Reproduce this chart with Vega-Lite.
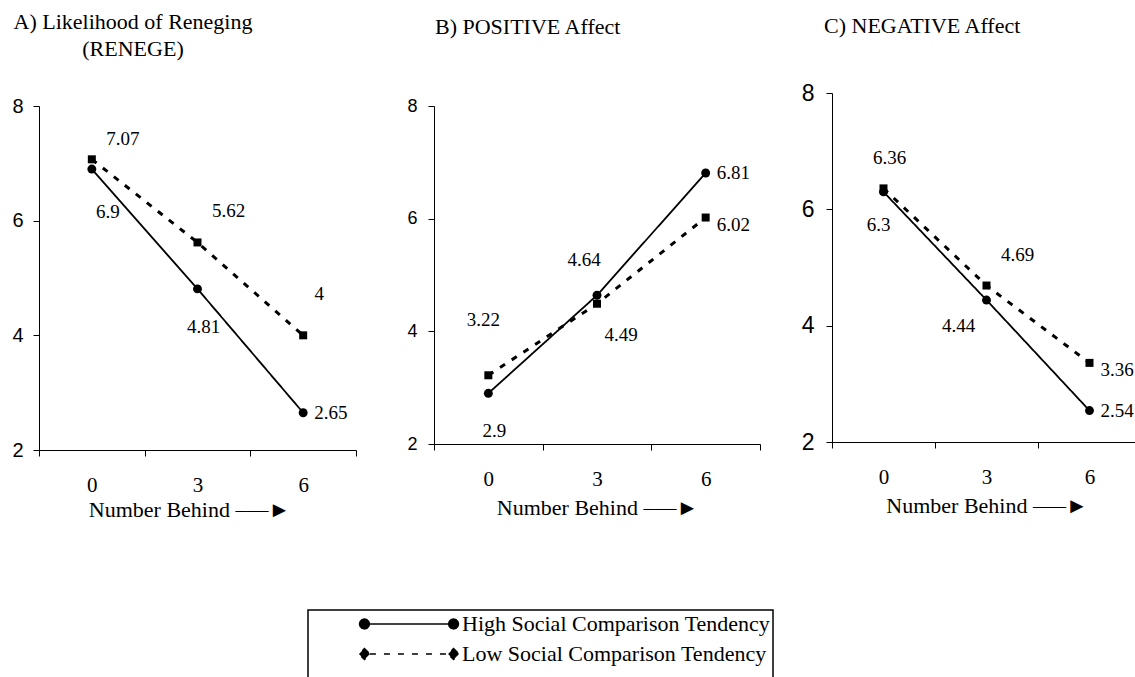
{
  "$schema": "https://vega.github.io/schema/vega-lite/v6.json",
  "padding": {"left": 11, "top": 11, "right": 0, "bottom": 0},
  "background": "white",
  "data": {
    "values": [
      {"panel": "A", "nb": "0", "grp": "High Social Comparison Tendency", "val": 6.9, "lbl": "6.9", "pos": "SSE"},
      {"panel": "A", "nb": "3", "grp": "High Social Comparison Tendency", "val": 4.81, "lbl": "4.81", "pos": "S"},
      {"panel": "A", "nb": "6", "grp": "High Social Comparison Tendency", "val": 2.65, "lbl": "2.65", "pos": "E"},
      {"panel": "A", "nb": "0", "grp": "Low Social Comparison Tendency", "val": 7.07, "lbl": "7.07", "pos": "ENE"},
      {"panel": "A", "nb": "3", "grp": "Low Social Comparison Tendency", "val": 5.62, "lbl": "5.62", "pos": "NE"},
      {"panel": "A", "nb": "6", "grp": "Low Social Comparison Tendency", "val": 4, "lbl": "4", "pos": "NNE"},
      {"panel": "B", "nb": "0", "grp": "High Social Comparison Tendency", "val": 2.9, "lbl": "2.9", "pos": "S"},
      {"panel": "B", "nb": "3", "grp": "High Social Comparison Tendency", "val": 4.64, "lbl": "4.64", "pos": "NW"},
      {"panel": "B", "nb": "6", "grp": "High Social Comparison Tendency", "val": 6.81, "lbl": "6.81", "pos": "E"},
      {"panel": "B", "nb": "0", "grp": "Low Social Comparison Tendency", "val": 3.22, "lbl": "3.22", "pos": "NNW"},
      {"panel": "B", "nb": "3", "grp": "Low Social Comparison Tendency", "val": 4.49, "lbl": "4.49", "pos": "SE"},
      {"panel": "B", "nb": "6", "grp": "Low Social Comparison Tendency", "val": 6.02, "lbl": "6.02", "pos": "ESE"},
      {"panel": "C", "nb": "0", "grp": "High Social Comparison Tendency", "val": 6.3, "lbl": "6.3", "pos": "SW"},
      {"panel": "C", "nb": "3", "grp": "High Social Comparison Tendency", "val": 4.44, "lbl": "4.44", "pos": "WSW"},
      {"panel": "C", "nb": "6", "grp": "High Social Comparison Tendency", "val": 2.54, "lbl": "2.54", "pos": "E"},
      {"panel": "C", "nb": "0", "grp": "Low Social Comparison Tendency", "val": 6.36, "lbl": "6.36", "pos": "N"},
      {"panel": "C", "nb": "3", "grp": "Low Social Comparison Tendency", "val": 4.69, "lbl": "4.69", "pos": "NE"},
      {"panel": "C", "nb": "6", "grp": "Low Social Comparison Tendency", "val": 3.36, "lbl": "3.36", "pos": "ESE"}
    ]
  },
  "spacing": 40,
  "hconcat": [
    {
      "spacing": 49,
      "hconcat": [
        {
          "width": 317,
          "height": 357,
          "title": {"text": ["A) Likelihood of Reneging", "(RENEGE)"], "align": "center", "dx": 94, "offset": 32, "lineHeight": 27},
          "transform": [{"filter": "datum.panel === 'A'"}],
          "encoding": {
            "x": {"field": "nb", "type": "ordinal", "sort": ["0", "3", "6"], "scale": {"type": "band", "paddingInner": 0, "paddingOuter": 0},
              "axis": {"tickBand": "extent", "labelAngle": 0, "title": "Number Behind  –—►", "titleFont": "Liberation Serif", "titleFontSize": 22, "titleFontWeight": "normal", "labelFont": "Liberation Serif", "labelFontSize": 21, "labelPadding": 18, "titlePadding": 4, "titleX": 150}},
            "y": {"field": "val", "type": "quantitative", "scale": {"domain": [2, 8], "nice": false, "zero": false, "range": [357, 13]},
              "axis": {"values": [2, 4, 6, 8], "title": null, "labelFont": "Liberation Sans", "labelFontSize": 20, "labelPadding": 10}}
          },
          "layer": [
            {"mark": {"type": "line", "color": "black"},
             "encoding": {
               "strokeDash": {"field": "grp", "type": "nominal", "scale": {"domain": ["High Social Comparison Tendency", "Low Social Comparison Tendency"], "range": [[1, 0], [6, 8]]},
                 "legend": {
                   "orient": "none", "legendX": 269, "legendY": 517,
                   "title": " ", "titleOrient": "bottom", "titleFontSize": 14, "titlePadding": 6,
                   "strokeColor": "black", "padding": 2, "rowPadding": 7,
                   "symbolSize": 484, "symbolOffset": 87, "labelOffset": 41, "labelLimit": 600,
                   "labelFont": "Liberation Serif", "labelFontSize": 22, "labelColor": "black",
                   "labelExpr": "datum.label + '\u2003\u2003'",
                   "symbolStrokeWidth": 1.5, "symbolFillColor": "black", "symbolStrokeColor": "black",
                   "encode": {
                     "legend": {"update": {"strokeWidth": {"value": 1.5}}},
                     "symbols": {"update": {
                       "shape": {"signal": "datum.value === 'High Social Comparison Tendency' ? 'M-4.05,0L4.05,0M-3.6,0L-3.66,0.225L-3.825,0.39L-4.05,0.45L-4.275,0.39L-4.44,0.225L-4.5,0L-4.44,-0.225L-4.275,-0.39L-4.05,-0.45L-3.825,-0.39L-3.66,-0.225ZM4.5,0L4.44,0.225L4.275,0.39L4.05,0.45L3.825,0.39L3.66,0.225L3.6,0L3.66,-0.225L3.825,-0.39L4.05,-0.45L4.275,-0.39L4.44,-0.225Z' : 'M-3.55,0L3.55,0M-4.05,-0.5L-3.55,0L-4.05,0.5L-4.55,0ZM4.05,-0.5L4.55,0L4.05,0.5L3.55,0Z'"},
                       "fill": {"value": "black"},
                       "stroke": {"value": "black"},
                       "strokeWidth": {"value": 1.5},
                       "strokeDash": {"signal": "datum.value === 'High Social Comparison Tendency' ? [1, 0] : [4, 3]"},
                       "opacity": {"value": 1}
                     }}
                   }
                 }},
               "strokeWidth": {"field": "grp", "type": "nominal", "scale": {"range": [1.8, 3]}, "legend": null}}},
            {"mark": {"type": "point", "filled": true, "color": "black", "opacity": 1},
             "encoding": {
               "shape": {"field": "grp", "type": "nominal", "scale": {"range": ["circle", "square"]}, "legend": null},
               "size": {"field": "grp", "type": "nominal", "scale": {"range": [80, 64]}, "legend": null}}},
            {"mark": {"type": "text", "font": "Liberation Serif", "fontSize": 19, "color": "black", "baseline": "middle",
               "align": {"expr": "datum.pos === 'E' || datum.pos === 'ESE' ? 'left' : 'center'"},
               "dx": {"expr": "({'S':6,'SSE':16,'SW':-5,'WSW':-28,'SE':24,'NE':31,'ENE':31,'NNE':16,'N':6,'NW':-13,'NNW':-5,'E':11,'ESE':11})[datum.pos]"},
               "dy": {"expr": "({'S':38,'SSE':43,'SW':33,'WSW':26,'SE':31,'NE':-31,'ENE':-20,'NNE':-41,'N':-30,'NW':-35,'NNW':-55,'E':0,'ESE':7})[datum.pos]"}},
             "encoding": {"text": {"field": "lbl"}}}
          ]
        },
        {
          "width": 326,
          "height": 351,
          "title": {"text": "B) POSITIVE Affect", "dx": 1, "offset": 54},
          "transform": [{"filter": "datum.panel === 'B'"}],
          "encoding": {
            "x": {"field": "nb", "type": "ordinal", "sort": ["0", "3", "6"], "scale": {"type": "band", "paddingInner": 0, "paddingOuter": 0},
              "axis": {"tickBand": "extent", "labelAngle": 0, "title": "Number Behind  –—►", "titleFont": "Liberation Serif", "titleFontSize": 22, "titleFontWeight": "normal", "labelFont": "Liberation Serif", "labelFontSize": 21, "labelPadding": 18, "titlePadding": 8}},
            "y": {"field": "val", "type": "quantitative", "scale": {"domain": [2, 8], "nice": false, "zero": false, "range": [351, 13]},
              "axis": {"values": [2, 4, 6, 8], "title": null, "labelFont": "Liberation Sans", "labelFontSize": 18, "labelPadding": 11}}
          },
          "layer": [
            {"mark": {"type": "line", "color": "black"},
             "encoding": {
               "strokeDash": {"field": "grp", "type": "nominal", "scale": {"domain": ["High Social Comparison Tendency", "Low Social Comparison Tendency"], "range": [[1, 0], [6, 8]]}},
               "strokeWidth": {"field": "grp", "type": "nominal", "scale": {"range": [1.8, 3]}, "legend": null}}},
            {"mark": {"type": "point", "filled": true, "color": "black", "opacity": 1},
             "encoding": {
               "shape": {"field": "grp", "type": "nominal", "scale": {"range": ["circle", "square"]}, "legend": null},
               "size": {"field": "grp", "type": "nominal", "scale": {"range": [80, 64]}, "legend": null}}},
            {"mark": {"type": "text", "font": "Liberation Serif", "fontSize": 19, "color": "black", "baseline": "middle",
               "align": {"expr": "datum.pos === 'E' || datum.pos === 'ESE' ? 'left' : 'center'"},
               "dx": {"expr": "({'S':6,'SSE':16,'SW':-5,'WSW':-28,'SE':24,'NE':31,'ENE':31,'NNE':16,'N':6,'NW':-13,'NNW':-5,'E':11,'ESE':11})[datum.pos]"},
               "dy": {"expr": "({'S':38,'SSE':43,'SW':33,'WSW':26,'SE':31,'NE':-31,'ENE':-20,'NNE':-41,'N':-30,'NW':-35,'NNW':-55,'E':0,'ESE':7})[datum.pos]"}},
             "encoding": {"text": {"field": "lbl"}}}
          ]
        }
      ]
    },
    {
      "width": 309,
      "height": 349,
      "title": {"text": "C) NEGATIVE Affect", "dx": -8, "offset": 44},
      "transform": [{"filter": "datum.panel === 'C'"}],
      "encoding": {
        "x": {"field": "nb", "type": "ordinal", "sort": ["0", "3", "6"], "scale": {"type": "band", "paddingInner": 0, "paddingOuter": 0},
          "axis": {"tickBand": "extent", "labelAngle": 0, "title": "Number Behind  –—►", "titleFont": "Liberation Serif", "titleFontSize": 22, "titleFontWeight": "normal", "labelFont": "Liberation Serif", "labelFontSize": 21, "labelPadding": 18, "titlePadding": 8}},
        "y": {"field": "val", "type": "quantitative", "scale": {"domain": [2, 8], "nice": false, "zero": false},
          "axis": {"values": [2, 4, 6, 8], "title": null, "labelFont": "Liberation Sans", "labelFontSize": 23, "labelPadding": 12}}
      },
      "layer": [
        {"mark": {"type": "line", "color": "black"},
         "encoding": {
           "strokeDash": {"field": "grp", "type": "nominal", "scale": {"domain": ["High Social Comparison Tendency", "Low Social Comparison Tendency"], "range": [[1, 0], [6, 8]]}},
           "strokeWidth": {"field": "grp", "type": "nominal", "scale": {"range": [1.8, 3]}, "legend": null}}},
        {"mark": {"type": "point", "filled": true, "color": "black", "opacity": 1},
         "encoding": {
           "shape": {"field": "grp", "type": "nominal", "scale": {"range": ["circle", "square"]}, "legend": null},
           "size": {"field": "grp", "type": "nominal", "scale": {"range": [80, 64]}, "legend": null}}},
        {"mark": {"type": "text", "font": "Liberation Serif", "fontSize": 19, "color": "black", "baseline": "middle",
           "align": {"expr": "datum.pos === 'E' || datum.pos === 'ESE' ? 'left' : 'center'"},
           "dx": {"expr": "({'S':6,'SSE':16,'SW':-5,'WSW':-28,'SE':24,'NE':31,'ENE':31,'NNE':16,'N':6,'NW':-13,'NNW':-5,'E':11,'ESE':11})[datum.pos]"},
           "dy": {"expr": "({'S':38,'SSE':43,'SW':33,'WSW':26,'SE':31,'NE':-31,'ENE':-20,'NNE':-41,'N':-30,'NW':-35,'NNW':-55,'E':0,'ESE':7})[datum.pos]"}},
         "encoding": {"text": {"field": "lbl"}}}
      ]
    }
  ],
  "config": {
    "view": {"stroke": null},
    "axis": {"domainColor": "black", "tickColor": "black", "labelColor": "black", "titleColor": "black", "grid": false, "tickSize": 6, "domainWidth": 1, "tickWidth": 1},
    "title": {"font": "Liberation Serif", "fontSize": 22, "fontWeight": "normal", "color": "black", "anchor": "start", "frame": "group"}
  }
}
